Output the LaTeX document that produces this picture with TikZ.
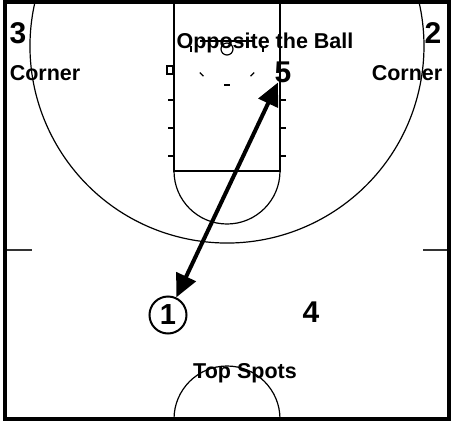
\documentclass[tikz,border=0pt]{standalone}
\usepackage{fontspec}
\setmainfont{Liberation Sans}
\usetikzlibrary{arrows.meta}

\tikzset{
  courtLine/.style={line width=1.2pt, black},
  spotLbl/.style={font=\fontsize{21.5}{24}\selectfont\bfseries, inner sep=0pt, anchor=base},
  spotNum/.style={font=\fontsize{30}{34}\selectfont\bfseries, inner sep=0pt, anchor=base},
  playerRing/.style={draw, circle, line width=2pt, minimum size=37pt, inner sep=0pt,
    font=\fontsize{29}{32}\selectfont\bfseries},
  passLine/.style={line width=4pt,
    {Triangle[length=23pt,width=21pt]}-{Triangle[length=23pt,width=21pt]}},
}

\begin{document}
\begin{tikzpicture}[x=1pt, y=1pt, yscale=-1]

% --- PARAMETERS ---
\def\W{451}              % picture width
\def\H{421}              % picture height
\def\cx{227}             % court centre line (x)
\def\laneL{174}          % lane left edge
\def\laneR{280}          % lane right edge
\def\ftY{171}            % free-throw line
\def\rimY{49}            % rim centre

\useasboundingbox (0,0) rectangle (\W,\H);

% --- LANE ---
\draw[courtLine] (\laneL,0) -- (\laneL,\ftY) -- (\laneR,\ftY) -- (\laneR,0);
\draw[courtLine] (\laneR,\ftY) arc[start angle=0, end angle=180, radius=53];
\foreach \ty in {100,128,156} {
  \draw[courtLine] (\laneL-6,\ty) -- (\laneL,\ty);
  \draw[courtLine] (\laneR,\ty) -- (\laneR+6,\ty);
}
\draw[courtLine] (\laneL-7,66) rectangle (\laneL-1,74);

% --- BASKET ---
\draw[courtLine] (\cx-27,41) -- (\cx+27,41);
\draw[courtLine] (\cx,\rimY) circle[radius=6];
\foreach \a in {0,45,...,180} {
  \draw[courtLine] (\cx,\rimY) ++(\a-4:36) arc[start angle=\a-4, end angle=\a+4, radius=36];
}

% --- THREE-POINT ARC ---
\draw[courtLine] (\cx,46) ++(193.5:197) arc[start angle=193.5, end angle=-13.5, radius=197];

% --- HASH MARKS AND CENTRE CIRCLE ---
\draw[line width=1.6pt, black!80] (5,250) -- (32,250);
\draw[line width=1.6pt, black!80] (423,250) -- (449,250);
\draw[courtLine] (\cx-53,419) arc[start angle=180, end angle=360, radius=53];

% --- BORDER ---
\draw[line width=4.2pt] (4.7,2) rectangle (449,419);

% --- SPOT LABELS ---
\node[spotNum] (n3) at (18,43) {3};
\node[spotLbl] (c3) at (45,80) {Corner};
\node[spotNum] (n2) at (433,43) {2};
\node[spotLbl] (c2) at (407,80) {Corner};
\node[spotLbl] (opp) at (265,48) {Opposite the Ball};
\node[spotNum] (p5) at (283,82) {5};
\node[spotNum] (p4) at (311,322) {4};
\node[spotLbl] (top) at (245,378) {Top Spots};

% --- PLAYER 1 AND PASS ---
\node[playerRing] (p1) at (168,315) {1};
\draw[passLine] (p1) -- (p5);

\end{tikzpicture}
\end{document}
